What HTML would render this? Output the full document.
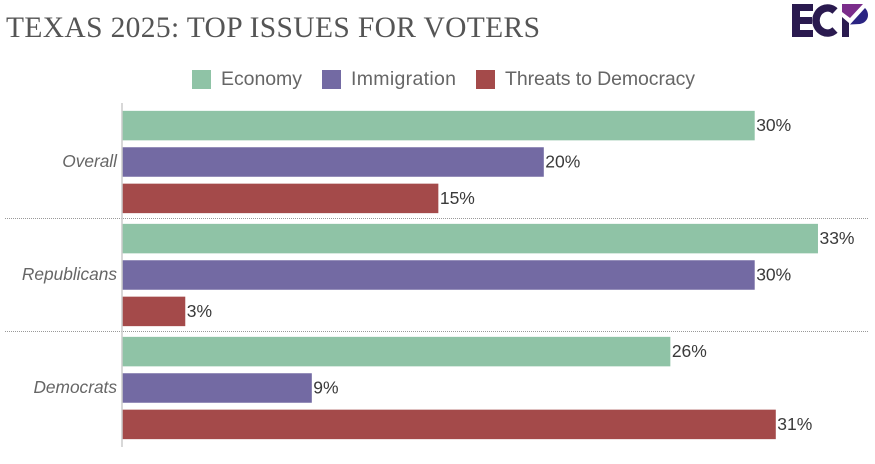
<!DOCTYPE html>
<html>
<head>
<meta charset="utf-8">
<title>Texas 2025: Top Issues for Voters</title>
<style>
html,body{margin:0;padding:0;background:#fff;width:875px;height:464px;overflow:hidden}
svg{display:block}
text{font-family:"Liberation Sans",sans-serif}
</style>
</head>
<body>
<svg id="chart" width="875" height="464" viewBox="0 0 875 464" xmlns="http://www.w3.org/2000/svg">
  <text x="6" y="37" font-size="29.5" fill="#555" textLength="534" lengthAdjust="spacing" style="font-family:'Liberation Serif',serif">TEXAS 2025: TOP ISSUES FOR VOTERS</text>
  <g>
    <path fill="#2a1a4f" d="M792 4H813V11H800V17H812V24H800V30H813V37H792Z"/>
    <path fill="none" stroke="#2a1a4f" stroke-width="7.500" d="M835 11A11.500 12.500 0 0 0 816 20.500A11.500 12.500 0 0 0 835 30"/>
    <path fill="#2a1a4f" d="M842 17L849 23V37H842Z"/>
    <path fill="#7b2d8b" d="M842 4H863L850 18L842 12Z"/>
    <path fill="#2b2482" d="M865 8C870 13 869 22 860 24L850 24.500Z"/>
  </g>
  <g id="legend"></g>
  <g id="plot"></g>
</svg>
<script>
const categories = ["Overall", "Republicans", "Democrats"];
const seriesNames = ["Economy", "Immigration", "Threats to Democracy"];
const economy = [30, 33, 26];
const immigration = [20, 30, 9];
const threats = [15, 3, 31];
const seriesColors = ["#8fc3a6", "#736aa3", "#a44a4a"];

const series = [economy, immigration, threats];
const NS = "http://www.w3.org/2000/svg";
const plot = document.getElementById("plot");
const legend = document.getElementById("legend");
const plotLeft = 122, plotTop = 105, bandHeight = 113;
const xScale = v => plotLeft + v * 21.09;
const bandCenter = i => plotTop + bandHeight * i + 57;
const barOffset = s => (s - 1) * 36.4;
const barHeight = 29.5;

function make(tag, attrs, parent, text) {
  const el = document.createElementNS(NS, tag);
  for (const k in attrs) el.setAttribute(k, attrs[k]);
  if (text !== undefined) el.textContent = text;
  parent.appendChild(el);
  return el;
}

categories.forEach((cat, i) => {
  const label = make("text", {x: 117, y: bandCenter(i) + 5, "text-anchor": "end", "font-size": 17.3, "font-style": "italic", fill: "#666"}, plot, cat);
  
  
  series.forEach((vals, s) => {
    const cy = bandCenter(i) + barOffset(s);
    const bar = make("rect", {x: plotLeft, y: cy - barHeight / 2, width: xScale(vals[i]) - plotLeft, height: barHeight, fill: seriesColors[s]}, plot);
    
    
    const val = make("text", {x: xScale(vals[i]) + 1.5, y: cy + 5.5, "font-size": 17.5, fill: "#3a3a3a"}, plot, vals[i] + "%");
    
    
  });
});

for (let i = 1; i < categories.length; i++) {
  const y = plotTop + bandHeight * i;
  const sep = make("line", {x1: 5, x2: 868, y1: y + 0.5, y2: y + 0.5, stroke: "#999", "stroke-width": 1, "stroke-dasharray": "1 1"}, plot);
  
  
}

const axis = make("line", {x1: 122, x2: 122, y1: 103, y2: 447, stroke: "#ccc", "stroke-width": 1.5}, plot);



const swatchX = [192, 322, 476];
const labelWidths = [81, 105, 190];
seriesNames.forEach((name, s) => {
  const sw = make("rect", {x: swatchX[s], y: 70, width: 19, height: 19, fill: seriesColors[s]}, legend);
  
  
  const t = make("text", {x: swatchX[s] + 29, y: 85, "font-size": 19.5, fill: "#666", textLength: labelWidths[s], lengthAdjust: "spacing"}, legend, name);
  
  
});
</script>
</body>
</html>
